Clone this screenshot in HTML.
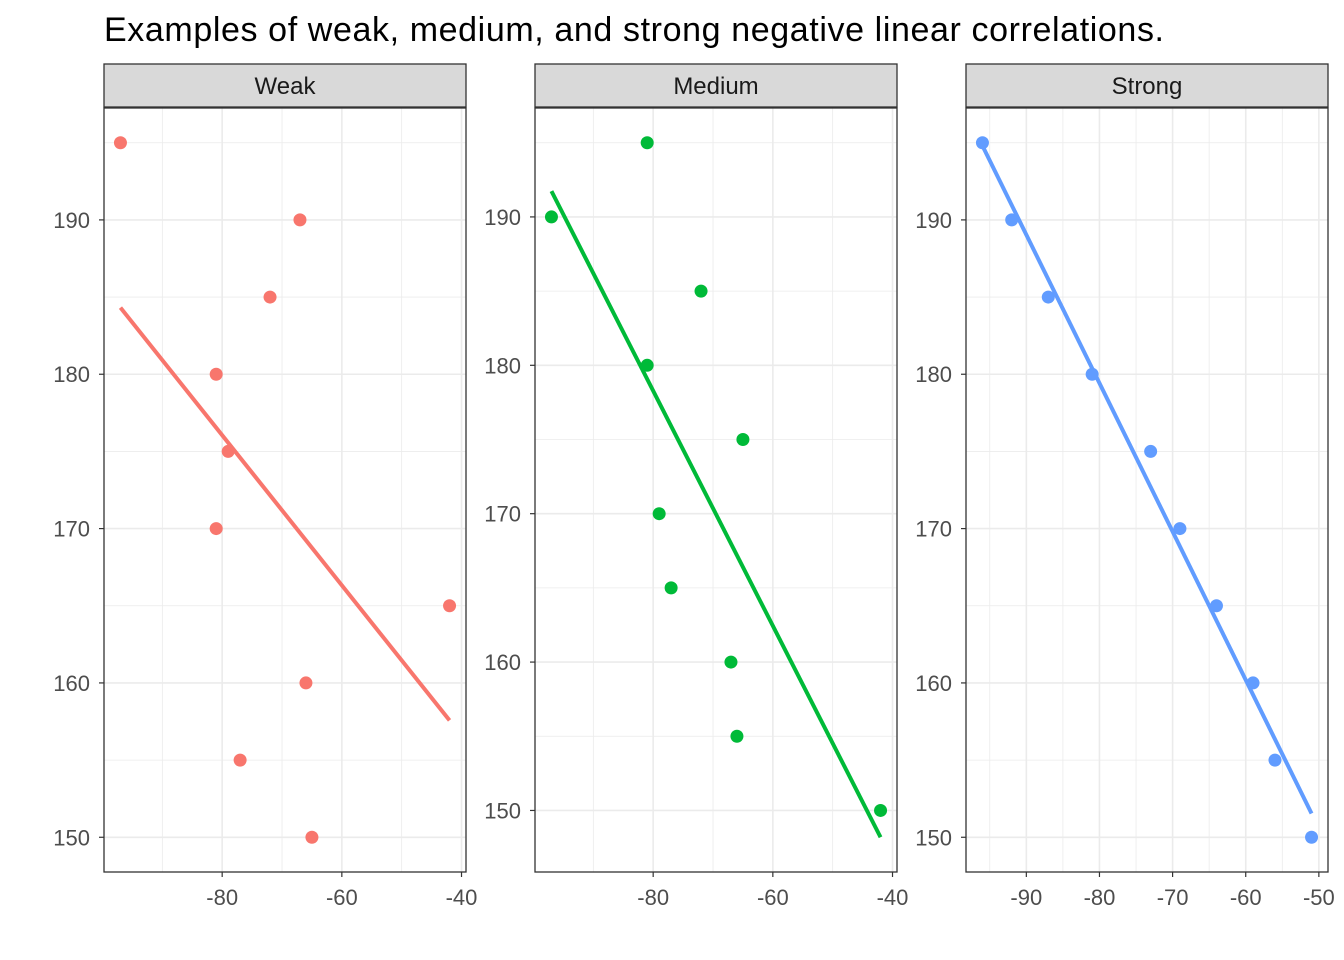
<!DOCTYPE html>
<html><head><meta charset="utf-8"><style>
html,body{margin:0;padding:0;background:#fff;}
svg{display:block;font-family:"Liberation Sans",Arial,sans-serif;}
</style></head><body>
<svg id="chart" width="1344" height="960">
<text x="104" y="41" font-size="34" fill="#000" textLength="1060">Examples of weak, medium, and strong negative linear correlations.</text>
</svg>
<script>
const panelNames = ["Weak","Medium","Strong"];
const yValues = [195,190,185,180,175,170,165,160,155,150];
const weakX = [-97,-67,-72,-81,-79,-81,-42,-66,-77,-65];
const mediumX = [-81,-97,-72,-81,-65,-79,-77,-67,-66,-42];
const strongX = [-96,-92,-87,-81,-73,-69,-64,-59,-56,-51];
const colors = ["#F8766D","#00BA38","#619CFF"];
const xMajorStep = [20,20,10];
const yMajorTicks = [150,160,170,180,190];

const NS="http://www.w3.org/2000/svg";
const svg=document.getElementById('chart');
function mk(tag,attrs,parent){const e=document.createElementNS(NS,tag);for(const k in attrs)e.setAttribute(k,attrs[k]);(parent||svg).appendChild(e);return e;}
const lefts=[104,535,966], W=362, topY=108, bottomY=872;
const series=[weakX,mediumX,strongX];
series.forEach((xs,p)=>{
  const n=xs.length;
  const mx=xs.reduce((a,b)=>a+b,0)/n, my=yValues.reduce((a,b)=>a+b,0)/n;
  let sxy=0,sxx=0;for(let i=0;i<n;i++){sxy+=(xs[i]-mx)*(yValues[i]-my);sxx+=(xs[i]-mx)**2;}
  const b=sxy/sxx,a=my-b*mx;
  const xmin=Math.min(...xs),xmax=Math.max(...xs);
  const ys=yValues.concat([a+b*xmin,a+b*xmax]);
  let ymin=Math.min(...ys),ymax=Math.max(...ys);
  const xr=xmax-xmin,yr=ymax-ymin;
  const x0=xmin-0.05*xr,x1=xmax+0.05*xr,y0=ymin-0.05*yr,y1=ymax+0.05*yr;
  const L=lefts[p];
  const sx=v=>L+(v-x0)/(x1-x0)*W;
  const sy=v=>bottomY-(v-y0)/(y1-y0)*(bottomY-topY);
  const g=mk('g',{});
  
  
  const st=xMajorStep[p];
  for(let v=Math.ceil(x0/(st/2))*(st/2);v<=x1;v+=st/2){
    const major=Math.abs(v/st-Math.round(v/st))<1e-6;
    const ln=mk('line',{x1:sx(v),x2:sx(v),y1:topY,y2:bottomY,stroke:'#ebebeb','stroke-width':major?1.6:0.8},g);
    
    
    if(major){
      mk('line',{x1:sx(v),x2:sx(v),y1:bottomY,y2:bottomY+5,stroke:'#333','stroke-width':1.2},g);
      const t=mk('text',{x:sx(v),y:bottomY+33,'font-size':22,fill:'#4d4d4d','text-anchor':'middle'},g);
      t.textContent=v;
      
      
    }
  }
  for(let v=Math.ceil(y0/5)*5;v<=y1;v+=5){
    const major=v%10===0;
    const ln=mk('line',{x1:L,x2:L+W,y1:sy(v),y2:sy(v),stroke:'#ebebeb','stroke-width':major?1.6:0.8},g);
    
    
    if(major&&yMajorTicks.includes(v)){
      mk('line',{x1:L-5,x2:L,y1:sy(v),y2:sy(v),stroke:'#333','stroke-width':1.2},g);
      const t=mk('text',{x:L-14,y:sy(v)+8,'font-size':22,fill:'#4d4d4d','text-anchor':'end'},g);
      t.textContent=v;
      
      
    }
  }
  const rl=mk('line',{x1:sx(xmin),y1:sy(a+b*xmin),x2:sx(xmax),y2:sy(a+b*xmax),stroke:colors[p],'stroke-width':4},g);
  
  
  xs.forEach((x,i)=>{
    const c=mk('circle',{cx:sx(x),cy:sy(yValues[i]),r:6.5,fill:colors[p]},g);
    
    
  });
  const fr=mk('rect',{x:L,y:topY,width:W,height:bottomY-topY,fill:'none',stroke:'#333','stroke-width':1.3},g);
  
  
  const sr=mk('rect',{x:L,y:64,width:W,height:43,fill:'#d9d9d9',stroke:'#333','stroke-width':1.3},g);
  
  
  const stt=mk('text',{x:L+W/2,y:94,'font-size':24,fill:'#1a1a1a','text-anchor':'middle'},g);
  stt.textContent=panelNames[p];
  
  
});
</script>
</body></html>
